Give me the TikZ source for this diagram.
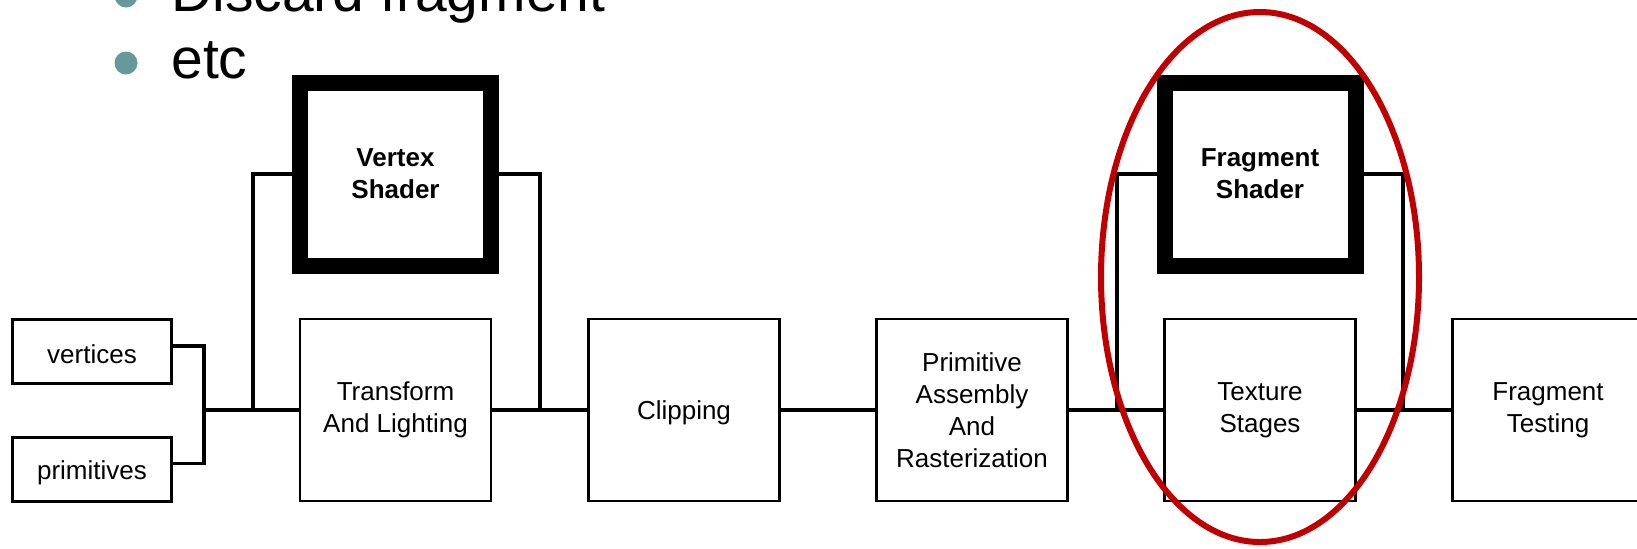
\documentclass[tikz,border=0pt]{standalone}
\usepackage{fontspec}
\setmainfont{Liberation Sans}
\definecolor{bulletteal}{RGB}{102,153,153}
\definecolor{ringred}{RGB}{192,0,0}
\begin{document}
\begin{tikzpicture}[x=0.5pt, y=-0.5pt,
    stage/.style={draw, line width=1.2pt, fill=white, align=center, minimum width=95.5pt, minimum height=91pt, inner sep=2pt, font=\fontsize{13}{16}\selectfont, execute at begin node={\rule{0pt}{12.5pt}}},
    shader/.style={stage, line width=8pt, minimum height=91.5pt, font=\fontsize{13}{16}\selectfont\bfseries},
    source/.style={stage, minimum width=79.4pt, minimum height=31.9pt},
    wire/.style={line width=1.6pt},
    bullet/.style={circle, fill=bulletteal, inner sep=0pt, minimum size=11.5pt},
    item/.style={anchor=base west, inner sep=0pt, font=\fontsize{28.5}{34}\selectfont}]
    \useasboundingbox (0,0) rectangle (1637,548);

    % bullet list above
    \node [bullet] (b1) at (126,-4) {};
    \node [item] (t1) at (171,11) {Discard fragment};
    \node [bullet] (b2) at (126,63) {};
    \node [item] (t2) at (171,78) {etc};

    % inputs
    \node [source] (vert) at (92,351.5) {vertices};
    \node [source] (prim) at (92,469.5) {primitives};

    % pipeline stages
    \node [stage] (tl) at (395.5,410) {Transform\\And Lighting};
    \node [stage] (clip) at (684,410) {Clipping};
    \node [stage] (pa) at (972,410) {Primitive\\Assembly\\And\\Rasterization};
    \node [stage] (ts) at (1260,410) {Texture\\Stages};
    \node [stage] (ft) at (1548,410) {Fragment\\Testing};

    % programmable stages
    \node [shader] (vs) at (395.5,174) {Vertex\\Shader};
    \node [shader] (fs) at (1260,174) {Fragment\\Shader};

    \coordinate (jn) at (204,410);
    \coordinate (vsin) at (253,410);
    \coordinate (vsout) at (540,410);
    \coordinate (fsin) at (1117,410);
    \coordinate (fsout) at (1403,410);

    \draw [wire] ([yshift=2.75pt]vert.east) -| (jn);
    \draw [wire] ([yshift=3pt]prim.east) -| (jn);
    \draw [wire] (jn) -- (tl.west);
    \draw [wire] (tl.east) -- (clip.west);
    \draw [wire] (clip.east) -- (pa.west);
    \draw [wire] (pa.east) -- (ts.west);
    \draw [wire] (ts.east) -- (ft.west);

    \draw [wire] (vs.west) -| (vsin);
    \draw [wire] (vs.east) -| (vsout);
    \draw [wire] (fs.west) -| (fsin);
    \draw [wire] (fs.east) -| (fsout);

    % highlight
    \draw [ringred, line width=3pt] (1260,277) ellipse (159 and 265);
\end{tikzpicture}
\end{document}
